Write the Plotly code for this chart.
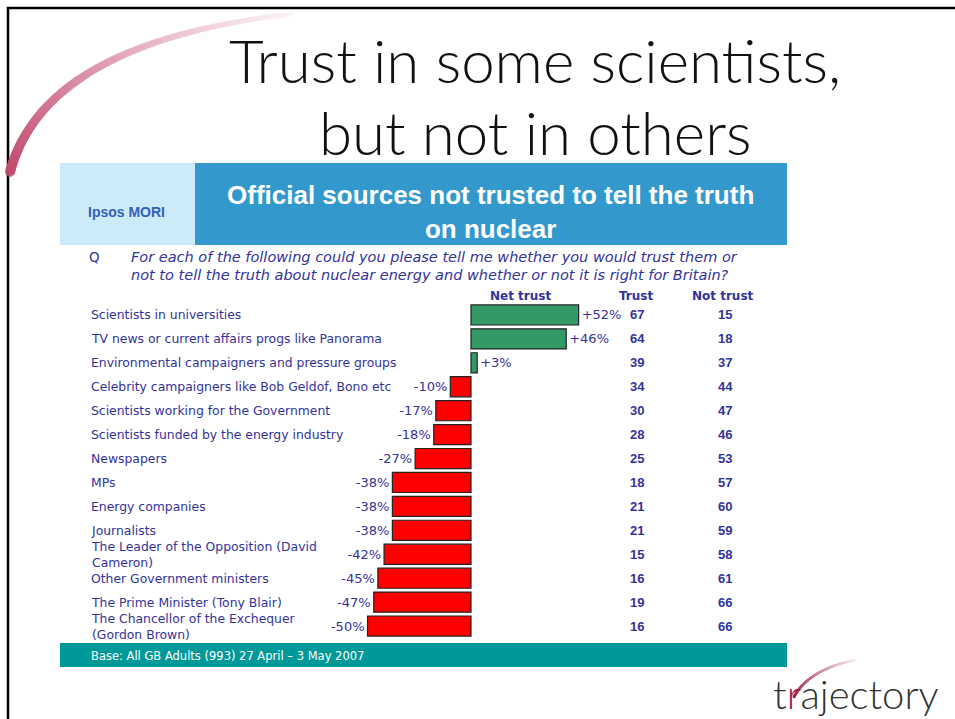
import plotly.graph_objects as go
import numpy as np

# ---------------- data ----------------
categories = [
    "Scientists in universities",
    "TV news or current affairs progs like Panorama",
    "Environmental campaigners and pressure groups",
    "Celebrity campaigners like Bob Geldof, Bono etc",
    "Scientists working for the Government",
    "Scientists funded by the energy industry",
    "Newspapers",
    "MPs",
    "Energy companies",
    "Journalists",
    "The Leader of the Opposition (David Cameron)",
    "Other Government ministers",
    "The Prime Minister (Tony Blair)",
    "The Chancellor of the Exchequer (Gordon Brown)",
]
category_labels = [
    "Scientists in universities",
    "TV news or current affairs progs like Panorama",
    "Environmental campaigners and pressure groups",
    "Celebrity campaigners like Bob Geldof, Bono etc",
    "Scientists working for the Government",
    "Scientists funded by the energy industry",
    "Newspapers",
    "MPs",
    "Energy companies",
    "Journalists",
    "The Leader of the Opposition (David<br>Cameron)",
    "Other Government ministers",
    "The Prime Minister (Tony Blair)",
    "The Chancellor of the Exchequer<br>(Gordon Brown)",
]
net_trust = [52, 46, 3, -10, -17, -18, -27, -38, -38, -38, -42, -45, -47, -50]
trust = [67, 64, 39, 34, 30, 28, 25, 18, 21, 21, 15, 16, 19, 16]
not_trust = [15, 18, 37, 44, 47, 46, 53, 57, 60, 59, 58, 61, 66, 66]
column_headers = ["Net trust", "Trust", "Not trust"]

title_lines = ["Trust in some scientists,", "but not in others"]
header_text = "Official sources not trusted to tell the truth<br>on nuclear"
question_lines = ["For each of the following could you please tell me whether you would trust them or",
                  "not to tell the truth about nuclear energy and whether or not it is right for Britain?"]
base_text = "Base: All GB Adults (993) 27 April \u2013 3 May 2007"

# ---------------- layout helpers ----------------
W, H = 955, 719


def px(x):
    return x / W


def py(y):
    return 1 - y / H


NAVY = "#333399"

fig = go.Figure()

bar_colors = ["#339966" if v > 0 else "#FF0000" for v in net_trust]
fig.add_trace(go.Bar(
    y=categories, x=net_trust, orientation="h",
    marker=dict(color=bar_colors, line=dict(color="#222222", width=1.2)),
    width=0.84,
    text=[f"{v:+d}%" for v in net_trust],
    textposition="outside", cliponaxis=False,
    textfont=dict(family="DejaVu Sans", size=13, color=NAVY),
    hoverinfo="skip", showlegend=False,
))

# decorative swoosh (top-left) drawn on a pixel overlay axis
t = np.linspace(0, 1, 220)
p0, p1, p2 = np.array([10, 172]), np.array([45, 42]), np.array([292, 14])
pts = ((1 - t)[:, None] ** 2) * p0 + (2 * (1 - t) * t)[:, None] * p1 + (t[:, None] ** 2) * p2
c0, c1 = np.array([195, 75, 110]), np.array([252, 242, 246])
cols = [f"rgb({int(a)},{int(b)},{int(c)})" for a, b, c in (c0 + (c1 - c0) * (t[:, None] ** 1.1))]
fig.add_trace(go.Scatter(
    x=pts[:, 0], y=pts[:, 1], mode="markers", xaxis="x2", yaxis="y2",
    marker=dict(size=10 - 5 * t, color=cols, line=dict(width=0)),
    hoverinfo="skip", showlegend=False,
))

# logo swoosh
t2 = np.linspace(0, 1, 120)
q0, q1, q2 = np.array([794, 697]), np.array([808, 670]), np.array([855, 660])
pts2 = ((1 - t2)[:, None] ** 2) * q0 + (2 * (1 - t2) * t2)[:, None] * q1 + (t2[:, None] ** 2) * q2
d0, d1 = np.array([150, 30, 60]), np.array([248, 232, 238])
cols2 = [f"rgb({int(a)},{int(b)},{int(c)})" for a, b, c in (d0 + (d1 - d0) * t2[:, None])]
fig.add_trace(go.Scatter(
    x=pts2[:, 0], y=pts2[:, 1], mode="markers", xaxis="x2", yaxis="y2",
    marker=dict(size=2.6, color=cols2, line=dict(width=0)),
    hoverinfo="skip", showlegend=False,
))

shapes = [
    dict(type="rect", xref="paper", yref="paper", x0=px(8), y0=py(8), x1=1.05, y1=-0.05,
         line=dict(color="black", width=2.5), fillcolor="rgba(0,0,0,0)", layer="below"),
    dict(type="rect", xref="paper", yref="paper", x0=px(60), y0=py(163), x1=px(195), y1=py(245),
         line=dict(width=0), fillcolor="#CCEAF8", layer="below"),
    dict(type="rect", xref="paper", yref="paper", x0=px(195), y0=py(163), x1=px(787), y1=py(245),
         line=dict(width=0), fillcolor="#3399CC", layer="below"),
    dict(type="rect", xref="paper", yref="paper", x0=px(60), y0=py(643), x1=px(787), y1=py(667),
         line=dict(width=0), fillcolor="#009999", layer="below"),
]

ann = []
for line, yc in zip(title_lines, [60, 132]):
    ann.append(dict(text=line, x=px(535), y=py(yc), xref="paper", yref="paper",
                    xanchor="center", yanchor="middle", showarrow=False,
                    font=dict(family="Lato", size=60, color="#111111", weight=300)))
ann.append(dict(text=header_text, x=px(490), y=py(212), xref="paper", yref="paper",
                xanchor="center", yanchor="middle", showarrow=False, align="center",
                font=dict(family="Arial, Liberation Sans", size=26, color="white", weight="bold")))
ann.append(dict(text="Ipsos MORI", x=px(127), y=py(212), xref="paper", yref="paper",
                xanchor="center", yanchor="middle", showarrow=False,
                font=dict(family="Arial, Liberation Sans", size=14, color="#3360B8", weight="bold")))
ann.append(dict(text="Q", x=px(87), y=py(257), xref="paper", yref="paper",
                xanchor="left", yanchor="middle", showarrow=False,
                font=dict(family="DejaVu Sans", size=13.5, color=NAVY)))
for line, yc in zip(question_lines, [257, 274]):
    ann.append(dict(text=f"<i>{line}</i>", x=px(129), y=py(yc), xref="paper", yref="paper",
                    xanchor="left", yanchor="middle", showarrow=False, height=17,
                    font=dict(family="DejaVu Sans", size=14.5, color=NAVY)))
for txt, xc in zip(column_headers, [520, 636, 723]):
    ann.append(dict(text=f"<b>{txt}</b>", x=px(xc), y=py(296), xref="paper", yref="paper",
                    xanchor="center", yanchor="middle", showarrow=False,
                    font=dict(family="DejaVu Sans", size=12, color=NAVY)))
for cat, lab, tr, nt in zip(categories, category_labels, trust, not_trust):
    ann.append(dict(text=lab, x=px(89), y=cat, xref="paper", yref="y",
                    xanchor="left", yanchor="middle", showarrow=False, align="left",
                    font=dict(family="DejaVu Sans", size=12.4, color=NAVY)))
    ann.append(dict(text=f"<b>{tr}</b>", x=px(637), y=cat, xref="paper", yref="y",
                    xanchor="center", yanchor="middle", showarrow=False,
                    font=dict(family="Arial, Liberation Sans", size=13, color=NAVY)))
    ann.append(dict(text=f"<b>{nt}</b>", x=px(725), y=cat, xref="paper", yref="y",
                    xanchor="center", yanchor="middle", showarrow=False,
                    font=dict(family="Arial, Liberation Sans", size=13, color=NAVY)))
ann.append(dict(text=base_text, x=px(89), y=py(656), xref="paper", yref="paper",
                xanchor="left", yanchor="middle", showarrow=False,
                font=dict(family="DejaVu Sans", size=11.5, color="white")))
ann.append(dict(text="t<span style='color:#9B2040'>r</span>ajectory", x=px(771), y=py(694),
                xref="paper", yref="paper", xanchor="left", yanchor="middle", showarrow=False,
                font=dict(family="Lato", size=40, color="#333333", weight=300)))

fig.update_layout(
    width=W, height=H, margin=dict(l=0, r=0, t=0, b=0),
    paper_bgcolor="white", plot_bgcolor="rgba(0,0,0,0)",
    showlegend=False, bargap=0.16,
    xaxis=dict(domain=[px(358), px(584)], range=[-54.6, 54.6], visible=False, fixedrange=True),
    yaxis=dict(domain=[py(638), py(303)], type="category", categoryorder="array",
               categoryarray=categories, range=[13.5, -0.5], visible=False, fixedrange=True),
    xaxis2=dict(domain=[0, 1], range=[0, W], visible=False, anchor="y2", fixedrange=True),
    yaxis2=dict(domain=[0, 1], range=[H, 0], visible=False, anchor="x2", fixedrange=True),
    shapes=shapes, annotations=ann,
)

fig.write_html(
    "out.html",
    config={"displayModeBar": False},
    post_script="document.body.style.margin='0';document.body.style.padding='0';"
                "document.documentElement.style.overflow='hidden';",
)
